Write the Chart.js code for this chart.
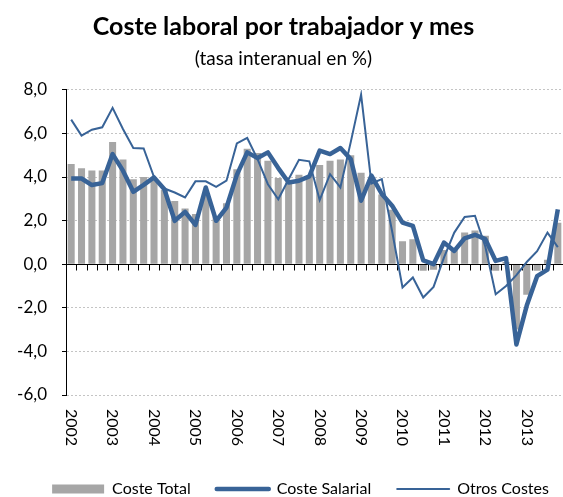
<!DOCTYPE html>
<html lang="es">
<head>
<meta charset="UTF-8">
<title>Coste laboral por trabajador y mes</title>
<script src="https://cdn.jsdelivr.net/npm/chart.js@4.4.1/dist/chart.umd.min.js"></script>
<style>
  html, body { margin: 0; padding: 0; background: #fff; }
  #wrap { position: relative; width: 563px; height: 497px; }
</style>
</head>
<body>
<div id="wrap"><canvas id="costeChart"></canvas></div>
<script>
const years = ['2002', '2003', '2004', '2005', '2006', '2007', '2008', '2009', '2010', '2011', '2012', '2013'];

// tasa interanual (%), trimestral 2002T1 - 2013T4
const costeTotal = [4.6, 4.4, 4.3, 4.3, 5.6, 4.8, 3.9, 4.0, 3.9, 3.4, 2.9, 2.55,
  2.3, 3.2, 2.2, 2.8, 4.35, 5.3, 5.1, 4.75, 3.95, 3.75, 4.1, 4.05,
  4.55, 4.75, 4.8, 5.0, 4.2, 3.9, 3.2, 2.5, 1.05, 1.15, -0.3, -0.25,
  0.65, 0.65, 1.45, 1.55, 1.3, -0.3, 0.1, -3.0, -1.4, -0.3, 0.2, 1.9];
const costeSalarial = [3.93, 3.93, 3.63, 3.72, 5.05, 4.29, 3.32, 3.64, 3.98, 3.44, 1.99, 2.4,
  1.8, 3.52, 1.99, 2.6, 4.1, 5.13, 4.87, 5.13, 4.41, 3.75, 3.83, 4.03,
  5.21, 5.05, 5.33, 4.82, 2.91, 4.06, 3.22, 2.68, 1.91, 1.76, 0.18, 0.0,
  0.99, 0.61, 1.19, 1.35, 1.15, 0.15, 0.28, -3.68, -1.9, -0.55, -0.25, 2.52];
const otrosCostes = [6.63, 5.9, 6.17, 6.28, 7.17, 6.2, 5.33, 5.31, 4.0, 3.47, 3.29, 3.06,
  3.8, 3.8, 3.55, 3.83, 5.54, 5.79, 4.82, 3.67, 2.98, 3.9, 4.79, 4.72,
  2.94, 4.13, 3.52, 5.6, 7.78, 3.7, 3.9, 1.5, -1.07, -0.61, -1.53, -1.04,
  0.3, 1.45, 2.17, 2.22, 0.8, -1.38, -1.0, -0.5, 0.1, 0.6, 1.45, 0.78];
const yTicks = [-6, -4, -2, 0, 2, 4, 6, 8];

// cuatro trimestres por año, solo el primero lleva el año
const quarters = [];
years.forEach(y => quarters.push(y, '', '', ''));

const azul = '#386397';
const gris = '#a6a6a6';

Chart.defaults.font.family = 'Lato';
Chart.defaults.color = '#000';

// eje en el cero con marcas, y años girados hacia abajo
const ejeCero = {
  id: 'ejeCero',
  afterLayout(chart) {
    chart.legend.left += 17;
    chart.legend.right += 17;
  },
  afterDatasetDraw(chart, args) {
    if (args.index !== 0) return;
    const { ctx, chartArea, scales: { x, y } } = chart;
    const y0 = Math.round(y.getPixelForValue(0)) + 0.5;
    ctx.save();
    ctx.strokeStyle = '#000';
    ctx.lineWidth = 1;
    ctx.beginPath();
    ctx.moveTo(chartArea.left, y0);
    ctx.lineTo(chartArea.right, y0);
    for (let i = 0; i <= quarters.length; i++) {
      const px = Math.round(x.getPixelForValue(i - 0.5)) + 0.5;
      ctx.moveTo(px, y0);
      ctx.lineTo(px, y0 + 6);
    }
    ctx.stroke();
    ctx.restore();
  },
  afterDraw(chart) {
    const { ctx, chartArea, scales: { x } } = chart;
    ctx.save();
    ctx.font = '16px Lato';
    ctx.fillStyle = '#000';
    ctx.textAlign = 'left';
    ctx.textBaseline = 'middle';
    quarters.forEach((lab, i) => {
      if (!lab) return;
      ctx.save();
      ctx.translate(x.getPixelForValue(i), chartArea.bottom + 14);
      ctx.rotate(Math.PI / 2);
      ctx.fillText(lab, 0, 0);
      ctx.restore();
    });
    ctx.restore();
  }
};

new Chart(document.getElementById('costeChart'), {
  type: 'bar',
  data: {
    labels: quarters,
    datasets: [{
      label: 'Coste Total',
      data: costeTotal,
      backgroundColor: gris,
      borderWidth: 0,
      barPercentage: 0.68,
      categoryPercentage: 1,
      order: 2
    }, {
      type: 'line',
      label: 'Coste Salarial',
      data: costeSalarial,
      borderColor: azul,
      backgroundColor: azul,
      borderWidth: 4.5,
      borderJoinStyle: 'round',
      pointRadius: 0,
      tension: 0,
      order: 1
    }, {
      type: 'line',
      label: 'Otros Costes',
      data: otrosCostes,
      borderColor: azul,
      backgroundColor: azul,
      borderWidth: 2,
      pointRadius: 0,
      tension: 0,
      order: 0
    }]
  },
  options: {
    responsive: true,
    maintainAspectRatio: false,
    animation: false,
    layout: { padding: { left: 0, right: -4, top: 0, bottom: -10 } },
    plugins: {
      title: {
        display: true,
        text: 'Coste laboral por trabajador y mes',
        font: { size: 25, weight: 'bold' },
        padding: { top: 12, bottom: 2 }
      },
      subtitle: {
        display: true,
        text: '(tasa interanual en %)',
        font: { size: 19 },
        padding: { top: 3, bottom: 20 }
      },
      legend: {
        position: 'bottom',
        labels: {
          usePointStyle: true,
          pointStyleWidth: 52,
          boxHeight: 9,
          padding: 26,
          font: { size: 16 },
          generateLabels(chart) {
            return chart.data.datasets.map((ds, i) => ({
              text: ds.label,
              fillStyle: i === 0 ? gris : azul,
              strokeStyle: azul,
              lineWidth: i === 0 ? 0 : ds.borderWidth,
              lineCap: 'round',
              pointStyle: i === 0 ? 'rect' : 'line',
              hidden: false,
              datasetIndex: i,
              fontColor: '#000'
            }));
          }
        }
      },
      tooltip: { enabled: false }
    },
    scales: {
      x: {
        grid: { display: false },
        border: { display: false },
        ticks: { display: false },
        afterFit(scale) { scale.height = 60; }
      },
      y: {
        min: -6,
        max: 8,
        afterBuildTicks(scale) { scale.ticks = yTicks.map(v => ({ value: v })); },
        ticks: {
          padding: 15,
          font: { size: 17 },
          callback: v => v.toFixed(1).replace('.', ',')
        },
        grid: { color: '#c4c4c4', tickColor: '#000', tickLength: 4 },
        border: { display: true, color: '#000', dash: [2, 2] },
        afterFit(scale) { scale.width = 66; }
      }
    }
  },
  plugins: [ejeCero]
});
</script>
</body>
</html>
